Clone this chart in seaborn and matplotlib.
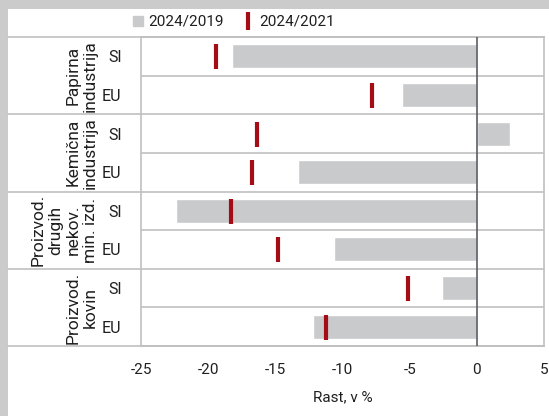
import matplotlib
matplotlib.use("Agg")
import matplotlib.pyplot as plt
import matplotlib.patches as mpatches
from matplotlib.lines import Line2D
import matplotlib.transforms as mtransforms
import seaborn as sns
import pandas as pd

# data
groups = ["Papirna\nindustrija", "Kemična\nindustrija",
          "Proizvod.\ndrugih\nnekov.\nmin. izd.", "Proizvod.\nkovin"]
regions = ["SI", "EU"]
growth_2019 = [-18.2, -5.6, 2.5, -13.3, -22.4, -10.6, -2.6, -12.2]
growth_2021 = [-19.4, -7.8, -16.4, -16.7, -18.3, -14.8, -5.1, -11.2]
x_ticks = [-25, -20, -15, -10, -5, 0, 5]

GRAY = "#C9CACC"
RED = "#A50D16"
LINE = "#C0C0C0"
TXT = "#1F1F1F"

sns.set_theme(style="white")
plt.rcParams["font.family"] = ["Roboto", "DejaVu Sans"]
plt.rcParams["axes.unicode_minus"] = False

rows = [f"{g}|{r}" for g in groups for r in regions]
df = pd.DataFrame({"row": rows, "v2019": growth_2019, "v2021": growth_2021})

fig = plt.figure(figsize=(5.49, 4.16), dpi=100, facecolor="#CBCBCB")
# white panel with grey border on left and top
fig.patches.append(mpatches.Rectangle((8 / 549, 0), 1, 1 - 9 / 416,
                                      transform=fig.transFigure,
                                      facecolor="white", edgecolor="none", zorder=-10))
ax = fig.add_axes([141 / 549, 1 - 346 / 416, 403 / 549, 309 / 416])
ax.set_zorder(1)
ax.set_facecolor("white")

sns.barplot(data=df, x="v2019", y="row", orient="h", color=GRAY,
            width=0.62, saturation=1, ax=ax, zorder=2)
sns.stripplot(data=df, x="v2021", y="row", orient="h", jitter=False,
              marker="|", size=18, linewidth=3, color=RED, ax=ax, zorder=4)

ax.axvline(0, color="#5A5E66", lw=1.2, zorder=3)
ax.set_xlim(-25, 5)
ax.set_ylim(len(rows) - 0.5, -0.5)
ax.set_xticks(x_ticks)
ax.set_xticklabels([str(t) for t in x_ticks])
ax.set_yticks(range(len(rows)))
ax.set_yticklabels([r.split("|")[1] for r in rows])
ax.tick_params(axis="x", length=0, pad=12, labelsize=11, labelcolor=TXT)
ax.tick_params(axis="y", length=0, pad=14, labelsize=11.5, labelcolor=TXT)
ax.set_xlabel("Rast, v %", fontsize=11, color=TXT, labelpad=10)
ax.set_ylabel("")

for s in ax.spines.values():
    s.set_visible(True)
    s.set_color(LINE)
    s.set_linewidth(1.2)

# separators between rows inside the plot
for i in range(len(rows) - 1):
    if i % 2 == 0:
        ax.axhline(i + 0.5, color=LINE, lw=1.2, zorder=1)

# group separators that run across the label area, and group labels
trans = mtransforms.blended_transform_factory(ax.transAxes, ax.transData)
x_left = (8 - 141) / 403
for k, g in enumerate(groups):
    y_sep = 2 * k - 0.5
    ax.plot([x_left, 1], [y_sep, y_sep], color=LINE, lw=1.2,
            transform=trans, clip_on=False, zorder=1)
    ax.text((98 - 141) / 403, 2 * k + 0.5, g, transform=trans, rotation=90,
            ha="right", va="center", multialignment="center",
            fontsize=12.5, color=TXT, linespacing=1.2)
ax.plot([x_left, 1], [len(rows) - 0.5] * 2, color=LINE, lw=1.2,
        transform=trans, clip_on=False, zorder=1)

handles = [Line2D([], [], marker="s", ls="none", color=GRAY, markersize=7),
           Line2D([], [], marker="|", ls="none", color=RED, markersize=13,
                  markeredgewidth=3)]
fig.legend(handles, ["2024/2019", "2024/2021"], loc="center",
           bbox_to_anchor=(233 / 549, 1 - 22 / 416), ncol=2, frameon=False,
           fontsize=11, handlelength=0.8, handletextpad=0.3, columnspacing=1.2,
           labelcolor=TXT)

fig.savefig("out.png", dpi=100, facecolor=fig.get_facecolor())
